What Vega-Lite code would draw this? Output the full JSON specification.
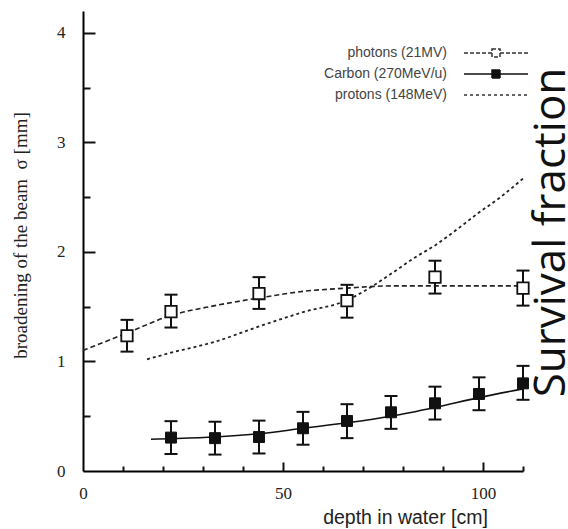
{
  "$schema": "https://vega.github.io/schema/vega-lite/v6.json",
  "width": 440,
  "height": 460,
  "autosize": "none",
  "padding": {"left": 83, "top": 11, "right": 45, "bottom": 58},
  "background": "white",
  "config": {"view": {"stroke": null}},
  "data": {
    "values": [
      {"kind": "pt", "series": "photons (21MV)", "depth": 11, "sigma": 1.235, "lo": 1.09, "hi": 1.38},
      {"kind": "pt", "series": "photons (21MV)", "depth": 22, "sigma": 1.455, "lo": 1.31, "hi": 1.61},
      {"kind": "pt", "series": "photons (21MV)", "depth": 44, "sigma": 1.62, "lo": 1.48, "hi": 1.77},
      {"kind": "pt", "series": "photons (21MV)", "depth": 66, "sigma": 1.555, "lo": 1.40, "hi": 1.70},
      {"kind": "pt", "series": "photons (21MV)", "depth": 88, "sigma": 1.77, "lo": 1.62, "hi": 1.92},
      {"kind": "pt", "series": "photons (21MV)", "depth": 110, "sigma": 1.67, "lo": 1.51, "hi": 1.83},
      {"kind": "pt", "series": "Carbon (270MeV/u)", "depth": 22, "sigma": 0.305, "lo": 0.155, "hi": 0.455},
      {"kind": "pt", "series": "Carbon (270MeV/u)", "depth": 33, "sigma": 0.30, "lo": 0.15, "hi": 0.45},
      {"kind": "pt", "series": "Carbon (270MeV/u)", "depth": 44, "sigma": 0.31, "lo": 0.16, "hi": 0.46},
      {"kind": "pt", "series": "Carbon (270MeV/u)", "depth": 55, "sigma": 0.39, "lo": 0.24, "hi": 0.54},
      {"kind": "pt", "series": "Carbon (270MeV/u)", "depth": 66, "sigma": 0.457, "lo": 0.30, "hi": 0.61},
      {"kind": "pt", "series": "Carbon (270MeV/u)", "depth": 77, "sigma": 0.536, "lo": 0.385, "hi": 0.685},
      {"kind": "pt", "series": "Carbon (270MeV/u)", "depth": 88, "sigma": 0.618, "lo": 0.47, "hi": 0.77},
      {"kind": "pt", "series": "Carbon (270MeV/u)", "depth": 99, "sigma": 0.703, "lo": 0.555, "hi": 0.855},
      {"kind": "pt", "series": "Carbon (270MeV/u)", "depth": 110, "sigma": 0.80, "lo": 0.65, "hi": 0.96},
      {"kind": "fit", "series": "photons (21MV)", "depth": 0, "sigma": 1.10},
      {"kind": "fit", "series": "photons (21MV)", "depth": 11, "sigma": 1.26},
      {"kind": "fit", "series": "photons (21MV)", "depth": 22, "sigma": 1.42},
      {"kind": "fit", "series": "photons (21MV)", "depth": 33, "sigma": 1.51},
      {"kind": "fit", "series": "photons (21MV)", "depth": 44, "sigma": 1.58},
      {"kind": "fit", "series": "photons (21MV)", "depth": 55, "sigma": 1.64},
      {"kind": "fit", "series": "photons (21MV)", "depth": 66, "sigma": 1.67},
      {"kind": "fit", "series": "photons (21MV)", "depth": 77, "sigma": 1.69},
      {"kind": "fit", "series": "photons (21MV)", "depth": 88, "sigma": 1.69},
      {"kind": "fit", "series": "photons (21MV)", "depth": 99, "sigma": 1.69},
      {"kind": "fit", "series": "photons (21MV)", "depth": 110, "sigma": 1.69},
      {"kind": "fit", "series": "Carbon (270MeV/u)", "depth": 17, "sigma": 0.29},
      {"kind": "fit", "series": "Carbon (270MeV/u)", "depth": 22, "sigma": 0.295},
      {"kind": "fit", "series": "Carbon (270MeV/u)", "depth": 33, "sigma": 0.31},
      {"kind": "fit", "series": "Carbon (270MeV/u)", "depth": 44, "sigma": 0.34},
      {"kind": "fit", "series": "Carbon (270MeV/u)", "depth": 55, "sigma": 0.39},
      {"kind": "fit", "series": "Carbon (270MeV/u)", "depth": 66, "sigma": 0.44},
      {"kind": "fit", "series": "Carbon (270MeV/u)", "depth": 77, "sigma": 0.50},
      {"kind": "fit", "series": "Carbon (270MeV/u)", "depth": 88, "sigma": 0.58},
      {"kind": "fit", "series": "Carbon (270MeV/u)", "depth": 99, "sigma": 0.67},
      {"kind": "fit", "series": "Carbon (270MeV/u)", "depth": 110, "sigma": 0.75},
      {"kind": "fit", "series": "protons (148MeV)", "depth": 16, "sigma": 1.02},
      {"kind": "fit", "series": "protons (148MeV)", "depth": 22, "sigma": 1.08},
      {"kind": "fit", "series": "protons (148MeV)", "depth": 33, "sigma": 1.18},
      {"kind": "fit", "series": "protons (148MeV)", "depth": 44, "sigma": 1.32},
      {"kind": "fit", "series": "protons (148MeV)", "depth": 55, "sigma": 1.45},
      {"kind": "fit", "series": "protons (148MeV)", "depth": 66, "sigma": 1.56},
      {"kind": "fit", "series": "protons (148MeV)", "depth": 72, "sigma": 1.68},
      {"kind": "fit", "series": "protons (148MeV)", "depth": 77, "sigma": 1.80},
      {"kind": "fit", "series": "protons (148MeV)", "depth": 83, "sigma": 1.95},
      {"kind": "fit", "series": "protons (148MeV)", "depth": 88, "sigma": 2.06},
      {"kind": "fit", "series": "protons (148MeV)", "depth": 94, "sigma": 2.22},
      {"kind": "fit", "series": "protons (148MeV)", "depth": 99, "sigma": 2.36},
      {"kind": "fit", "series": "protons (148MeV)", "depth": 104, "sigma": 2.49},
      {"kind": "fit", "series": "protons (148MeV)", "depth": 110, "sigma": 2.67}
    ]
  },
  "layer": [
    {
      "transform": [{"filter": "datum.kind === 'fit' && datum.series === 'photons (21MV)'"}],
      "mark": {"type": "line", "color": "#222", "strokeWidth": 1.6, "strokeDash": [5, 3], "interpolate": "monotone"},
      "encoding": {
        "x": {
          "field": "depth",
          "type": "quantitative",
          "scale": {"domain": [0, 110], "nice": false},
          "axis": {
            "orient": "bottom",
            "values": [0, 50, 100],
            "format": "d",
            "labelFlush": false,
            "ticks": false,
            "gridOpacity": 0,
            "domainColor": "black",
            "domainWidth": 2,
            "labelFont": "Liberation Serif",
            "labelFontSize": 17,
            "labelColor": "#222",
            "labelPadding": 14,
            "title": "depth in water [cm]",
            "titleFont": "Liberation Sans",
            "titleFontSize": 19.5,
            "titleFontWeight": "normal",
            "titleColor": "#222",
            "titleX": 322,
            "titleY": 52,
            "titleBaseline": "alphabetic",
            "titleAlign": "center"
          }
        },
        "y": {
          "field": "sigma",
          "type": "quantitative",
          "scale": {"domain": [0, 4.2], "nice": false},
          "axis": {
            "orient": "left",
            "values": [0, 1, 2, 3, 4],
            "format": "d",
            "ticks": false,
            "gridOpacity": 0,
            "domainColor": "black",
            "domainWidth": 2,
            "labelFont": "Liberation Serif",
            "labelFontSize": 17,
            "labelColor": "#222",
            "labelPadding": 18,
            "title": "broadening of the beam \u00a0σ [mm]",
            "titleFont": "Liberation Serif",
            "titleFontSize": 19,
            "titleFontWeight": "normal",
            "titleColor": "#222",
            "titleAngle": 270,
            "titleX": -53,
            "titleY": 224,
            "titleBaseline": "bottom",
            "titleAlign": "center"
          }
        }
      }
    },
    {
      "transform": [{"filter": "datum.kind === 'fit' && datum.series === 'Carbon (270MeV/u)'"}],
      "mark": {"type": "line", "color": "#111", "strokeWidth": 1.6, "interpolate": "monotone"},
      "encoding": {
        "x": {
          "field": "depth",
          "type": "quantitative",
          "scale": {"domain": [0, 110], "nice": false},
          "axis": {
            "orient": "bottom",
            "values": [50, 100],
            "labelColor": "transparent",
            "domain": false,
            "gridColor": "transparent",
            "title": null,
            "offset": -9,
            "tickColor": "#111",
            "tickWidth": 2,
            "tickSize": 9
          }
        },
        "y": {
          "field": "sigma",
          "type": "quantitative",
          "scale": {"domain": [0, 4.2], "nice": false},
          "axis": {
            "orient": "left",
            "values": [1, 2, 3, 4],
            "labelColor": "transparent",
            "domain": false,
            "gridColor": "transparent",
            "title": null,
            "offset": -12,
            "tickColor": "#111",
            "tickWidth": 2,
            "tickSize": 12
          }
        }
      }
    },
    {
      "transform": [{"filter": "datum.kind === 'fit' && datum.series === 'protons (148MeV)'"}],
      "mark": {"type": "line", "color": "#222", "strokeWidth": 1.8, "strokeDash": [3, 3], "interpolate": "monotone"},
      "encoding": {
        "x": {
          "field": "depth",
          "type": "quantitative",
          "scale": {"domain": [0, 110], "nice": false},
          "axis": {
            "orient": "bottom",
            "values": [10, 20, 30, 40, 60, 70, 80, 90, 110],
            "labelColor": "transparent",
            "domain": false,
            "gridColor": "transparent",
            "title": null,
            "offset": -5,
            "tickColor": "#111",
            "tickWidth": 2,
            "tickSize": 5
          }
        },
        "y": {
          "field": "sigma",
          "type": "quantitative",
          "scale": {"domain": [0, 4.2], "nice": false},
          "axis": {
            "orient": "left",
            "values": [0.5, 1.5, 2.5, 3.5],
            "labelColor": "transparent",
            "domain": false,
            "gridColor": "transparent",
            "title": null,
            "offset": -7,
            "tickColor": "#111",
            "tickWidth": 2,
            "tickSize": 7
          }
        }
      }
    },
    {
      "transform": [{"filter": "datum.kind === 'pt'"}],
      "mark": {"type": "rule", "color": "#111", "strokeWidth": 2},
      "encoding": {
        "x": {"field": "depth", "type": "quantitative", "scale": {"domain": [0, 110], "nice": false}, "axis": null},
        "y": {"field": "lo", "type": "quantitative", "scale": {"domain": [0, 4.2], "nice": false}, "axis": null},
        "y2": {"field": "hi"}
      }
    },
    {
      "transform": [{"filter": "datum.kind === 'pt'"}],
      "mark": {"type": "tick", "orient": "horizontal", "color": "#111", "size": 13, "thickness": 2, "opacity": 1},
      "encoding": {
        "x": {"field": "depth", "type": "quantitative", "scale": {"domain": [0, 110], "nice": false}, "axis": null},
        "y": {"field": "lo", "type": "quantitative", "scale": {"domain": [0, 4.2], "nice": false}, "axis": null}
      }
    },
    {
      "transform": [{"filter": "datum.kind === 'pt'"}],
      "mark": {"type": "tick", "orient": "horizontal", "color": "#111", "size": 13, "thickness": 2, "opacity": 1},
      "encoding": {
        "x": {"field": "depth", "type": "quantitative", "scale": {"domain": [0, 110], "nice": false}, "axis": null},
        "y": {"field": "hi", "type": "quantitative", "scale": {"domain": [0, 4.2], "nice": false}, "axis": null}
      }
    },
    {
      "transform": [{"filter": "datum.kind === 'pt' && datum.series === 'photons (21MV)'"}],
      "mark": {"type": "point", "shape": "square", "filled": true, "fill": "white", "stroke": "#111", "strokeWidth": 1.8, "size": 130, "opacity": 1},
      "encoding": {
        "x": {"field": "depth", "type": "quantitative", "scale": {"domain": [0, 110], "nice": false}, "axis": null},
        "y": {"field": "sigma", "type": "quantitative", "scale": {"domain": [0, 4.2], "nice": false}, "axis": null}
      }
    },
    {
      "transform": [{"filter": "datum.kind === 'pt' && datum.series === 'Carbon (270MeV/u)'"}],
      "mark": {"type": "point", "shape": "square", "filled": true, "fill": "#111", "stroke": "#111", "strokeWidth": 1, "size": 120, "opacity": 1},
      "encoding": {
        "x": {"field": "depth", "type": "quantitative", "scale": {"domain": [0, 110], "nice": false}, "axis": null},
        "y": {"field": "sigma", "type": "quantitative", "scale": {"domain": [0, 4.2], "nice": false}, "axis": null}
      }
    },
    {
      "transform": [{"filter": "datum.kind === 'fit'"}],
      "mark": {"type": "point", "size": 0, "filled": false, "strokeWidth": 1.5, "opacity": 1},
      "encoding": {
        "x": {"field": "depth", "type": "quantitative", "scale": {"domain": [0, 110], "nice": false}, "axis": null},
        "y": {
          "field": "sigma",
          "type": "quantitative",
          "scale": {"domain": [0, 4.2], "nice": false},
          "axis": {
            "orient": "right",
            "domain": false,
            "ticks": false,
            "labels": false,
            "gridOpacity": 0,
            "title": "Survival fraction",
            "titleFont": "Open Sans",
            "titleFontSize": 44,
            "titleFontWeight": "normal",
            "titleColor": "#111",
            "titleAngle": 270,
            "titleX": 6,
            "titleY": 221,
            "titleBaseline": "top",
            "titleAlign": "center"
          }
        },
        "shape": {
          "field": "series",
          "type": "nominal",
          "scale": {
            "domain": ["photons (21MV)", "Carbon (270MeV/u)", "protons (148MeV)"],
            "range": ["M-4,0H-0.5M0.5,0H4M-0.5,-0.5H0.5V0.5H-0.5Z", "M-4,0H-0.5M0.5,0H4M-0.5,-0.5H0.5V0.5H-0.5Z", "M-4,0H4"]
          },
          "legend": {
            "orient": "none", "legendX": 404, "legendY": 33, "title": null,
            "symbolSize": 256, "symbolStrokeWidth": 1.5, "symbolOpacity": 1,
            "labelAlign": "right", "labelOffset": -58, "labelFont": "Liberation Sans",
            "labelFontSize": 14, "labelColor": "#444", "rowPadding": 5, "padding": 0
          }
        },
        "fill": {
          "field": "series",
          "type": "nominal",
          "scale": {
            "domain": ["photons (21MV)", "Carbon (270MeV/u)", "protons (148MeV)"],
            "range": ["white", "#111", "white"]
          },
          "legend": {
            "orient": "none", "legendX": 404, "legendY": 33, "title": null,
            "symbolSize": 256, "symbolStrokeWidth": 1.5, "symbolOpacity": 1,
            "labelAlign": "right", "labelOffset": -58, "labelFont": "Liberation Sans",
            "labelFontSize": 14, "labelColor": "#444", "rowPadding": 5, "padding": 0
          }
        },
        "stroke": {
          "field": "series",
          "type": "nominal",
          "scale": {
            "domain": ["photons (21MV)", "Carbon (270MeV/u)", "protons (148MeV)"],
            "range": ["#333", "#111", "#333"]
          },
          "legend": {
            "orient": "none", "legendX": 404, "legendY": 33, "title": null,
            "symbolSize": 256, "symbolStrokeWidth": 1.5, "symbolOpacity": 1,
            "labelAlign": "right", "labelOffset": -58, "labelFont": "Liberation Sans",
            "labelFontSize": 14, "labelColor": "#444", "rowPadding": 5, "padding": 0
          }
        },
        "strokeDash": {
          "field": "series",
          "type": "nominal",
          "scale": {
            "domain": ["photons (21MV)", "Carbon (270MeV/u)", "protons (148MeV)"],
            "range": [[4, 2], [1, 0], [3, 3]]
          },
          "legend": {
            "orient": "none", "legendX": 404, "legendY": 33, "title": null,
            "symbolSize": 256, "symbolStrokeWidth": 1.5, "symbolOpacity": 1,
            "labelAlign": "right", "labelOffset": -58, "labelFont": "Liberation Sans",
            "labelFontSize": 14, "labelColor": "#444", "rowPadding": 5, "padding": 0
          }
        }
      }
    }
  ],
  "resolve": {"axis": {"x": "independent", "y": "independent"}}
}
